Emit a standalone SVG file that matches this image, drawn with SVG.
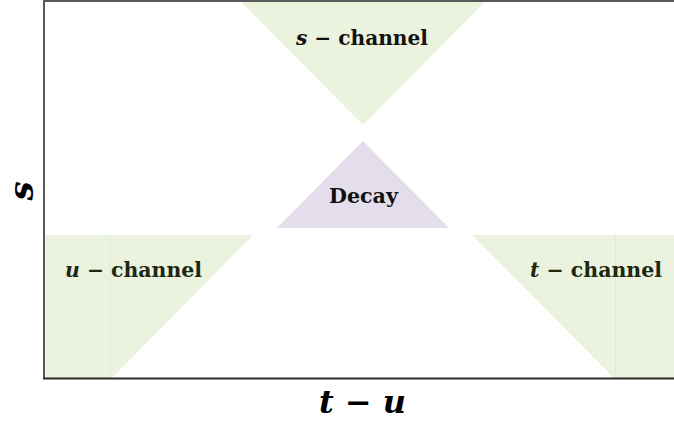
<svg xmlns="http://www.w3.org/2000/svg" width="674" height="421" viewBox="0 0 674 421">
  <style>
    .green { fill: #EBF2DD; }
    .seam { stroke: #E1EAD2; stroke-width: 1; }
    .purple { fill: #E4DDEB; }
    .lbl { font-family: "DejaVu Serif Condensed", "DejaVu Serif", "Liberation Serif", serif; font-stretch: condensed; font-weight: bold; font-size: 20px; }
    .dark { fill: #1C2812; }
    .black { fill: #111111; }
    .it { font-style: italic; }
    .axlbl { font-family: "DejaVu Serif", "Liberation Serif", serif; font-weight: bold; font-style: italic; fill: #000; }
  </style>
  <rect x="0" y="0" width="674" height="421" fill="#FFFFFF"/>
  <g id="s-channel">
    <polygon class="green" points="241,2 485,2 363,125"/>
    <text class="lbl black" x="296" y="45" textLength="132" lengthAdjust="spacingAndGlyphs"><tspan class="it">s</tspan> − channel</text>
  </g>
  <g id="decay">
    <polygon class="purple" points="363,141 449,228 277,228"/>
    <text class="lbl black" x="329" y="203" textLength="69" lengthAdjust="spacingAndGlyphs">Decay</text>
  </g>
  <g id="u-channel">
    <polygon class="green" points="44,235 253,235 111,379 44,379"/>
    <line class="seam" x1="110.5" y1="235" x2="110.5" y2="378"/>
    <text class="lbl dark" x="65" y="277" textLength="137" lengthAdjust="spacingAndGlyphs"><tspan class="it">u</tspan> − channel</text>
  </g>
  <g id="t-channel">
    <polygon class="green" points="472,235 674,235 674,379 615,379"/>
    <line class="seam" x1="615.5" y1="235" x2="615.5" y2="378"/>
    <text class="lbl dark" x="530" y="277" textLength="132" lengthAdjust="spacingAndGlyphs"><tspan class="it">t</tspan> − channel</text>
  </g>
  <g id="axes">
    <line x1="44" y1="1" x2="674" y2="1" stroke="#595959" stroke-width="2"/>
    <line x1="44" y1="0" x2="44" y2="379" stroke="#595959" stroke-width="2"/>
    <line x1="43" y1="378.5" x2="674" y2="378.5" stroke="#2B2B2B" stroke-width="2"/>
    <text class="axlbl" x="319" y="413" font-size="31" textLength="87" lengthAdjust="spacingAndGlyphs">t − u</text>
    <text class="axlbl" transform="translate(33,191) rotate(-90)" text-anchor="middle" font-size="34">s</text>
  </g>
</svg>
